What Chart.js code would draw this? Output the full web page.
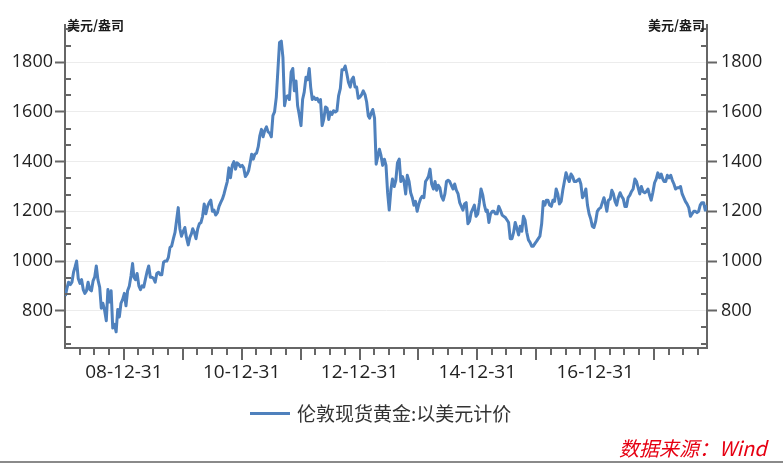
<!DOCTYPE html>
<html><head><meta charset="utf-8">
<script src="https://cdn.jsdelivr.net/npm/chart.js@4/dist/chart.umd.min.js"></script>
<style>
html,body{margin:0;padding:0;background:#fff;}
#wrap{position:relative;width:783px;height:465px;overflow:hidden;background:#fff;}
#c{position:absolute;left:0;top:0;}
.unit{position:absolute;top:18px;font:bold 13px/14px "Noto Sans CJK SC",sans-serif;color:#1a1a1a;white-space:nowrap;}
#legline{position:absolute;left:250px;top:412px;width:40px;height:3px;background:#4f81bd;}
#legtext{position:absolute;left:297px;top:401px;font:19px/24px "Noto Sans CJK SC",sans-serif;color:#333;white-space:nowrap;}
#src{position:absolute;left:619px;top:436px;font:italic 20px/24px "Noto Sans CJK SC",sans-serif;color:#e60012;white-space:nowrap;}
#bline{position:absolute;left:0;top:461px;width:783px;height:2px;background:#8a8a8a;}
</style></head>
<body>
<div id="wrap">
<canvas id="c" width="783" height="465"></canvas>
<div class="unit" style="left:67px;">美元/盎司</div>
<div class="unit" style="right:78px;">美元/盎司</div>
<div id="legline"></div>
<div id="legtext">伦敦现货黄金:以美元计价</div>
<div id="src">数据来源：Wind</div>
<div id="bline"></div>
</div>
<script>
// ---- Data: London spot gold (USD/oz), sampled on the 3rd, 13th, 23rd of each month ----
const sampleDays = [3, 13, 23];
const years = [2008, 2009, 2010, 2011, 2012, 2013, 2014, 2015, 2016, 2017, 2018];
const gold2008 = [860,890,915, 905,915,955, 975,1000,930, 910,925,885, 870,880,915, 885,880,920, 935,980,925, 895,810,830, 800,760,885, 835,880,730, 745,715,805, 775,830,845];
const gold2009 = [870,820,880, 900,940,990, 935,925,950, 900,885,900, 895,925,955, 980,935,935, 930,915,950, 955,945,945, 995,1000,1000, 1015,1055,1060, 1090,1115,1165, 1215,1130,1100];
const gold2010 = [1120,1135,1095, 1065,1095,1110, 1130,1115,1090, 1130,1150,1155, 1180,1230,1190, 1220,1235,1245, 1200,1205,1185, 1195,1220,1235, 1250,1270,1295, 1320,1375,1335, 1385,1400,1370, 1395,1390,1380];
const gold2011 = [1385,1375,1340, 1350,1365,1400, 1430,1410,1430, 1435,1460,1505, 1530,1500,1525, 1540,1520,1515, 1500,1585,1600, 1660,1770,1880, 1885,1820,1625, 1660,1665,1650, 1760,1775,1685, 1725,1625,1590];
const gold2012 = [1545,1650,1680, 1740,1730,1775, 1700,1650,1660, 1650,1655,1640, 1650,1545,1570, 1620,1615,1570, 1600,1590,1605, 1600,1605,1665, 1695,1770,1770, 1785,1755,1720, 1700,1730,1740, 1700,1700,1655];
const gold2013 = [1660,1670,1685, 1670,1640,1585, 1575,1595,1610, 1575,1390,1420, 1450,1425,1385, 1410,1385,1275, 1205,1285,1330, 1300,1325,1395, 1410,1320,1340, 1320,1270,1345, 1320,1275,1255, 1225,1240,1200];
const gold2014 = [1230,1250,1260, 1255,1320,1330, 1340,1370,1310, 1290,1320,1285, 1305,1295,1260, 1245,1270,1320, 1325,1320,1305, 1290,1310,1285, 1270,1235,1220, 1205,1230,1235, 1150,1160,1195, 1210,1225,1180];
const gold2015 = [1190,1235,1290, 1265,1225,1200, 1205,1155,1190, 1200,1200,1190, 1190,1220,1205, 1185,1180,1175, 1165,1155,1090, 1090,1115,1155, 1130,1105,1140, 1120,1180,1165, 1115,1085,1075, 1060,1060,1070];
const gold2016 = [1080,1090,1100, 1150,1240,1225, 1245,1245,1225, 1220,1245,1240, 1290,1270,1230, 1240,1285,1320, 1355,1335,1320, 1350,1340,1320, 1320,1325,1330, 1310,1255,1265, 1290,1225,1190, 1170,1140,1135];
const gold2017 = [1160,1200,1210, 1215,1235,1255, 1235,1200,1245, 1250,1285,1270, 1240,1225,1255, 1275,1260,1250, 1220,1220,1255, 1265,1280,1290, 1330,1320,1295, 1270,1300,1280, 1275,1280,1290, 1265,1245,1275];
const gold2018 = [1315,1330,1355, 1335,1350,1330, 1320,1320,1345, 1335,1345,1325, 1310,1290,1295, 1295,1300,1270, 1255,1240,1230, 1215,1180,1190, 1200,1200,1195, 1200,1225,1235, 1235,1205,1225];
const goldByYear = [gold2008, gold2009, gold2010, gold2011, gold2012, gold2013, gold2014, gold2015, gold2016, gold2017, gold2018];
const yTickValues = [800, 1000, 1200, 1400, 1600, 1800];
const xLabelYears = [2008, 2010, 2012, 2014, 2016];
const seriesName = '伦敦现货黄金:以美元计价';

// ---- helpers ----
const EPOCH = Date.UTC(2008, 0, 1);
function dayNum(y, m, d) { return (Date.UTC(y, m - 1, d) - EPOCH) / 86400000; }
const X_MIN = dayNum(2008, 1, 1);
const X_MAX = dayNum(2018, 11, 24);
const Y_MIN = 650, Y_MAX = 1950;

const points = [];
years.forEach((yr, i) => {
  const arr = goldByYear[i];
  arr.forEach((v, k) => {
    const m = Math.floor(k / 3) + 1;
    const d = sampleDays[k % 3];
    points.push({ x: dayNum(yr, m, d), y: v });
  });
});

const yearEnds = [];
for (let yr = 2008; yr <= 2017; yr++) yearEnds.push({ yr, v: dayNum(yr, 12, 31) });

Chart.defaults.font.family = "'Open Sans','Noto Sans CJK SC',sans-serif";
Chart.defaults.color = '#222';

const minorTicks = {
  id: 'minorTicks',
  afterDraw(chart) {
    const { ctx, chartArea: a, scales: { x, y } } = chart;
    ctx.save();
    ctx.strokeStyle = '#666';
    ctx.lineWidth = 2;
    ctx.beginPath();
    const qEnds = [[3, 31], [6, 30], [9, 30], [12, 31]];
    for (let yr = 2008; yr <= 2018; yr++) {
      qEnds.forEach((q, qi) => {
        const v = dayNum(yr, q[0], q[1]);
        if (v <= X_MIN || v >= X_MAX) return;
        const px = Math.round(x.getPixelForValue(v));
        const len = qi === 3 ? 12 : 7;
        ctx.moveTo(px, a.bottom);
        ctx.lineTo(px, a.bottom + len);
      });
    }
    for (let k = -2; k <= 17; k++) {
      if (k % 3 === 0) continue;
      const v = 800 + k * 200 / 3;
      if (v <= Y_MIN || v >= Y_MAX) continue;
      const py = Math.round(y.getPixelForValue(v));
      ctx.moveTo(a.left, py); ctx.lineTo(a.left + 6, py);
      ctx.moveTo(a.right - 6, py); ctx.lineTo(a.right, py);
    }
    ctx.stroke();
    ctx.restore();
  }
};

const tickFont = { size: 18 };
const plainNum = v => String(v);

new Chart(document.getElementById('c'), {
  type: 'line',
  data: {
    datasets: [{
      label: seriesName,
      data: points,
      borderColor: '#4f81bd',
      borderWidth: 3,
      pointRadius: 0,
      tension: 0,
      borderJoinStyle: 'round',
      fill: false
    }]
  },
  options: {
    responsive: false,
    animation: false,
    devicePixelRatio: 1,
    layout: { padding: { top: 25, left: 0, right: 0, bottom: 0 } },
    plugins: { legend: { display: false }, tooltip: { enabled: false } },
    scales: {
      x: {
        type: 'linear',
        min: X_MIN, max: X_MAX,
        afterBuildTicks(s) { s.ticks = yearEnds.map(e => ({ value: e.v })); },
        afterFit(s) { s.height = 117; },
        ticks: {
          autoSkip: false, maxRotation: 0, minRotation: 0, font: { size: 19 }, padding: 13, color: '#222',
          callback(value) {
            const e = yearEnds.find(t => Math.abs(t.v - value) < 0.5);
            if (!e || !xLabelYears.includes(e.yr)) return '';
            return String(e.yr % 100).padStart(2, '0') + '-12-31';
          }
        },
        grid: { display: true, drawOnChartArea: false, drawTicks: false },
        border: { display: true, color: '#666', width: 2 }
      },
      y: {
        position: 'left',
        min: Y_MIN, max: Y_MAX,
        afterBuildTicks(s) { s.ticks = yTickValues.map(v => ({ value: v })); },
        afterFit(s) { s.width = 65; },
        ticks: { font: tickFont, padding: 2, color: '#222', callback: plainNum },
        grid: { color: '#ececec', lineWidth: 1, tickColor: '#666', tickWidth: 2, tickLength: 10 },
        border: { display: true, color: '#666', width: 2 }
      },
      y2: {
        position: 'right',
        min: Y_MIN, max: Y_MAX,
        afterBuildTicks(s) { s.ticks = yTickValues.map(v => ({ value: v })); },
        afterFit(s) { s.width = 76; },
        ticks: { font: tickFont, padding: 4, color: '#222', callback: plainNum },
        grid: { drawOnChartArea: false, tickColor: '#666', tickWidth: 2, tickLength: 10 },
        border: { display: true, color: '#666', width: 2 }
      }
    }
  },
  plugins: [minorTicks]
});
</script>
</body></html>
